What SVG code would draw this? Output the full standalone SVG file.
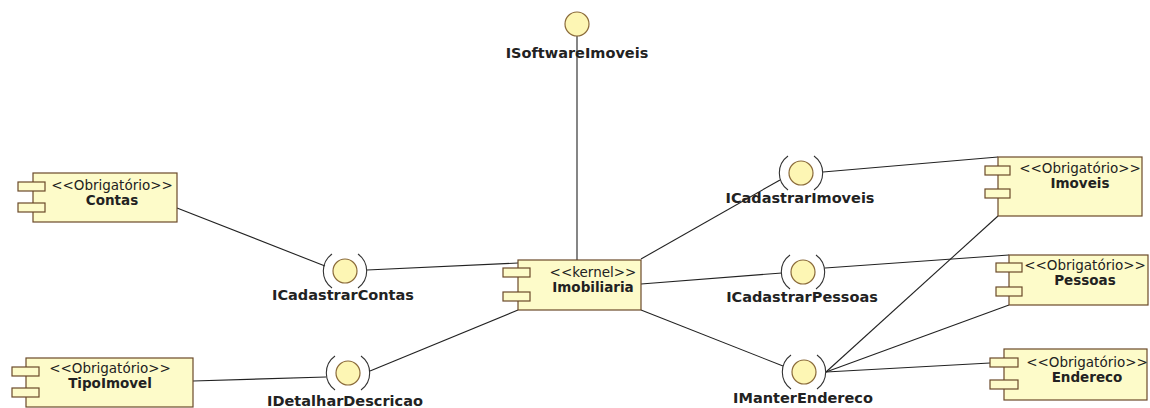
<svg xmlns="http://www.w3.org/2000/svg" width="1150" height="408" viewBox="0 0 1150 408">
<style>
.box{fill:#fdfbc9;stroke:#6b4a2a;stroke-width:1.2}
.port{fill:#fdfbc9;stroke:#6b4a2a;stroke-width:1.2}
.ster{font-family:"DejaVu Sans",sans-serif;font-size:13.5px;fill:#222;text-anchor:middle}
.name{font-family:"DejaVu Sans",sans-serif;font-size:13.5px;font-weight:bold;fill:#222;text-anchor:middle}
.lbl{font-family:"DejaVu Sans",sans-serif;font-size:14.5px;font-weight:bold;fill:#222;text-anchor:middle}
.ball{fill:#fdf6b4;stroke:#8a6a3a;stroke-width:1.2}
.sock{fill:none;stroke:#333;stroke-width:1.1}
.conn line{stroke:#222;stroke-width:1.1}
</style>
<rect width="1150" height="408" fill="#fff"/>
<g class="conn" id="connectors">
<line x1="577" y1="36" x2="577" y2="260"/>
<line x1="177" y1="208" x2="325" y2="266"/>
<line x1="367" y1="270" x2="518" y2="263"/>
<line x1="193" y1="381" x2="326" y2="377"/>
<line x1="370" y1="371" x2="518" y2="310"/>
<line x1="641" y1="259" x2="780" y2="180"/>
<line x1="823" y1="172" x2="998" y2="157"/>
<line x1="641" y1="284" x2="782" y2="273"/>
<line x1="825" y1="268" x2="1009" y2="255"/>
<line x1="641" y1="310" x2="783" y2="366"/>
<line x1="826" y1="372" x2="998" y2="216"/>
<line x1="826" y1="372" x2="1009" y2="305"/>
<line x1="826" y1="372" x2="990" y2="363"/>
</g>
<g id="ISoftwareImoveis">
<circle class="ball" cx="577" cy="24" r="12"/>
<text class="lbl" x="577" y="58">ISoftwareImoveis</text>
</g>
<g id="ICadastrarContas">
<circle class="ball" cx="345" cy="271" r="12"/>
<path class="sock" d="M332 254 A21 21 0 0 0 332 288 M358 254 A21 21 0 0 1 358 288"/>
<text class="lbl" x="343" y="300">ICadastrarContas</text>
</g>
<g id="IDetalharDescricao">
<circle class="ball" cx="348" cy="373" r="12"/>
<path class="sock" d="M335 356 A21 21 0 0 0 335 390 M361 356 A21 21 0 0 1 361 390"/>
<text class="lbl" x="345" y="406">IDetalharDescricao</text>
</g>
<g id="ICadastrarImoveis">
<circle class="ball" cx="801" cy="173" r="12"/>
<path class="sock" d="M788 156 A21 21 0 0 0 788 190 M814 156 A21 21 0 0 1 814 190"/>
<text class="lbl" x="800" y="203">ICadastrarImoveis</text>
</g>
<g id="ICadastrarPessoas">
<circle class="ball" cx="803" cy="272" r="12"/>
<path class="sock" d="M790 255 A21 21 0 0 0 790 289 M816 255 A21 21 0 0 1 816 289"/>
<text class="lbl" x="802" y="302">ICadastrarPessoas</text>
</g>
<g id="IManterEndereco">
<circle class="ball" cx="804" cy="372" r="12"/>
<path class="sock" d="M791 355 A21 21 0 0 0 791 389 M817 355 A21 21 0 0 1 817 389"/>
<text class="lbl" x="803" y="403">IManterEndereco</text>
</g>
<g id="Contas">
<rect class="box" x="33" y="173" width="144" height="49"/>
<rect class="port" x="18" y="182" width="27" height="9"/>
<rect class="port" x="18" y="203" width="27" height="9"/>
<text class="ster" x="112" y="190">&lt;&lt;Obrigatório&gt;&gt;</text>
<text class="name" x="112" y="205">Contas</text>
</g>
<g id="Imobiliaria">
<rect class="box" x="518" y="260" width="123" height="50"/>
<rect class="port" x="503" y="268" width="27" height="9"/>
<rect class="port" x="503" y="292" width="27" height="9"/>
<text class="ster" x="593" y="277">&lt;&lt;kernel&gt;&gt;</text>
<text class="name" x="593" y="292">Imobiliaria</text>
</g>
<g id="TipoImovel">
<rect class="box" x="26" y="358" width="167" height="49"/>
<rect class="port" x="12" y="367" width="27" height="9"/>
<rect class="port" x="12" y="388" width="27" height="9"/>
<text class="ster" x="110" y="373">&lt;&lt;Obrigatório&gt;&gt;</text>
<text class="name" x="110" y="388">TipoImovel</text>
</g>
<g id="Imoveis">
<rect class="box" x="998" y="157" width="144" height="59"/>
<rect class="port" x="985" y="166" width="25" height="9"/>
<rect class="port" x="985" y="189" width="25" height="9"/>
<text class="ster" x="1080" y="173">&lt;&lt;Obrigatório&gt;&gt;</text>
<text class="name" x="1080" y="188">Imoveis</text>
</g>
<g id="Pessoas">
<rect class="box" x="1009" y="255" width="139" height="50"/>
<rect class="port" x="996" y="263" width="26" height="9"/>
<rect class="port" x="996" y="287" width="26" height="9"/>
<text class="ster" x="1085" y="270">&lt;&lt;Obrigatório&gt;&gt;</text>
<text class="name" x="1085" y="285">Pessoas</text>
</g>
<g id="Endereco">
<rect class="box" x="1004" y="349" width="143" height="51"/>
<rect class="port" x="990" y="358" width="28" height="9"/>
<rect class="port" x="990" y="380" width="28" height="9"/>
<text class="ster" x="1087" y="367">&lt;&lt;Obrigatório&gt;&gt;</text>
<text class="name" x="1087" y="382">Endereco</text>
</g>
</svg>
